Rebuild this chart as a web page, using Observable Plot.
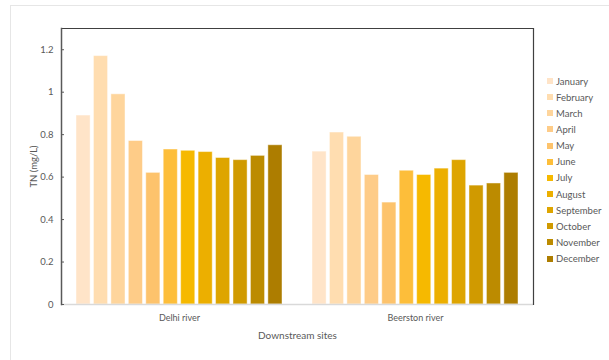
<!DOCTYPE html>
<html>
<head>
<meta charset="utf-8">
<script src="https://cdn.jsdelivr.net/npm/d3@7"></script>
<script src="https://cdn.jsdelivr.net/npm/@observablehq/plot@0.6"></script>
<style>
  html, body { margin: 0; padding: 0; background: #fff; }
  #wrap { position: relative; width: 609px; height: 360px; overflow: hidden; font-family: Lato, "Open Sans", sans-serif; }
  #sheet { position: absolute; left: 10px; top: 5px; width: 800px; height: 600px; border: 1.5px solid #e6e6e6; box-sizing: border-box; }
  #chart { position: absolute; left: 0; top: 0; }
  #legend { position: absolute; left: 547px; top: 73px; font-size: 9.5px; color: #595959; }
  #legend .item { height: 16.15px; display: flex; align-items: center; white-space: nowrap; }
  #legend .sw { width: 6px; height: 6px; margin-right: 3px; }
</style>
</head>
<body>
<div id="wrap">
  <div id="sheet"></div>
  <div id="chart"></div>
  <div id="legend"></div>
</div>
<script>
// Total nitrogen by month at two downstream river sites
const sites = ["Delhi river", "Beerston river"];
const months = ["January", "February", "March", "April", "May", "June",
                "July", "August", "September", "October", "November", "December"];
const delhi = [0.89, 1.17, 0.99, 0.77, 0.62, 0.73, 0.724, 0.718, 0.69, 0.68, 0.70, 0.75];
const beerston = [0.72, 0.81, 0.79, 0.61, 0.48, 0.63, 0.61, 0.64, 0.68, 0.56, 0.57, 0.62];
const monthColors = ["#FFE4C8", "#FFDDB0", "#FED59C", "#FECC88", "#FDC36C", "#FDBE3A",
                     "#F6B900", "#ECAF00", "#DEA500", "#D09A00", "#BC8B00", "#AD7D00"];
const yTicks = [0, 0.2, 0.4, 0.6, 0.8, 1, 1.2];

const rows = [
  ...months.map((m, i) => ({site: sites[0], month: m, tn: delhi[i]})),
  ...months.map((m, i) => ({site: sites[1], month: m, tn: beerston[i]}))
];

const textColor = "#595959";

const chart = Plot.plot({
  width: 609,
  height: 360,
  marginLeft: 61,
  marginRight: 76,
  marginTop: 28,
  marginBottom: 56,
  style: {fontFamily: "Lato, 'Open Sans', sans-serif", fontSize: "9px", color: textColor, background: "transparent"},
  fx: {domain: sites, padding: 0, round: false},
  x: {domain: months, paddingInner: 0.19, paddingOuter: 0.86, round: false, axis: null},
  y: {domain: [0, 1.3]},
  color: {domain: months, range: monthColors},
  marks: [
    Plot.barY(rows, {fx: "site", x: "month", y: "tn", fill: "month", stroke: "#fff", strokeOpacity: 0.45, strokeWidth: 1}),
    Plot.ruleY([0], {stroke: "#d9d9d9", strokeWidth: 1.5}),
    Plot.ruleY([1.3], {stroke: "#404040", strokeWidth: 1.2}),
    // plot border: left edge on the first facet, right edge on the last
    Plot.frame({anchor: "left", facetAnchor: "left", stroke: "#595959", strokeWidth: 1.5}),
    Plot.frame({anchor: "right", facetAnchor: "right", stroke: "#404040", strokeWidth: 1.2}),
    Plot.axisY({anchor: "left", ticks: yTicks, tickFormat: d => String(d), tickSize: 0, tickPadding: 8,
                label: "TN (mg/L)", labelAnchor: "center", labelArrow: "none",
                labelOffset: 31, fontSize: 9.5, color: textColor}),
    Plot.axisY({anchor: "left", ticks: yTicks, tickFormat: () => "", tickSize: -3, stroke: "#595959", label: null}),
    Plot.axisFx({anchor: "bottom", tickSize: 0, tickPadding: 10, label: null, fontSize: 9, color: textColor}),
    Plot.axisFx({anchor: "bottom", ticks: [], tickSize: 0, label: "Downstream sites",
                 labelAnchor: "center", labelOffset: 34, fontSize: 10, color: textColor})
  ]
});
document.getElementById("chart").appendChild(chart);

// Month legend on the right
const legend = d3.select("#legend");
months.forEach((m, i) => {
  const item = legend.append("div").attr("class", "item");
  item.append("div").attr("class", "sw").style("background", monthColors[i]);
  item.append("span").text(m);
});
</script>
</body>
</html>
